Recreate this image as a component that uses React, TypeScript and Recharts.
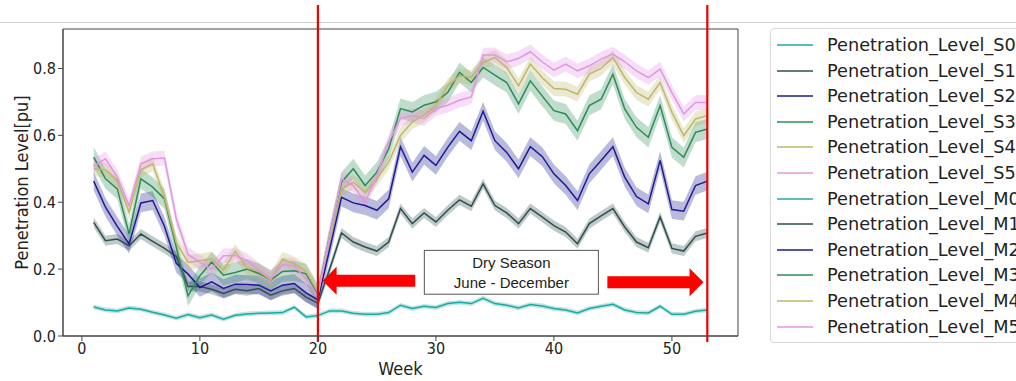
import React from "react";
import {
  ComposedChart,
  Line,
  Area,
  XAxis,
  YAxis,
  ReferenceLine,
  ReferenceArea,
} from "recharts";

// weeks 1..53
const weeks = [
  1, 2, 3, 4, 5, 6, 7, 8, 9, 10, 11, 12, 13, 14, 15, 16, 17, 18, 19, 20, 21, 22, 23, 24, 25, 26, 27,
  28, 29, 30, 31, 32, 33, 34, 35, 36, 37, 38, 39, 40, 41, 42, 43, 44, 45, 46, 47, 48, 49, 50, 51, 52, 53,
];

const levelS0 = [
  0.087, 0.078, 0.075, 0.084, 0.08, 0.071, 0.063, 0.053, 0.064, 0.055, 0.063, 0.05, 0.062, 0.066, 0.068,
  0.069, 0.07, 0.086, 0.057, 0.061, 0.075, 0.075, 0.068, 0.065, 0.065, 0.07, 0.092, 0.082, 0.089, 0.085,
  0.097, 0.101, 0.097, 0.113, 0.097, 0.092, 0.084, 0.094, 0.09, 0.082, 0.078, 0.069, 0.082, 0.089, 0.095,
  0.078, 0.07, 0.069, 0.089, 0.065, 0.065, 0.074, 0.078,
];
const levelS1 = [
  0.34, 0.285, 0.29, 0.27, 0.305, 0.283, 0.262, 0.238, 0.148, 0.148, 0.14, 0.127, 0.14, 0.135, 0.142,
  0.122, 0.135, 0.142, 0.116, 0.098, 0.2, 0.308, 0.281, 0.266, 0.254, 0.281, 0.381, 0.336, 0.368, 0.341,
  0.376, 0.407, 0.388, 0.455, 0.39, 0.368, 0.336, 0.381, 0.356, 0.33, 0.311, 0.276, 0.336, 0.359, 0.381,
  0.326, 0.281, 0.264, 0.356, 0.262, 0.254, 0.298, 0.308,
];
const levelS2 = [
  0.463, 0.385, 0.328, 0.275, 0.398, 0.405, 0.328, 0.217, 0.185, 0.145, 0.162, 0.142, 0.155, 0.154, 0.152,
  0.135, 0.152, 0.157, 0.129, 0.108, 0.26, 0.415, 0.398, 0.39, 0.376, 0.41, 0.566, 0.49, 0.54, 0.51,
  0.564, 0.612, 0.584, 0.672, 0.584, 0.549, 0.5, 0.566, 0.537, 0.485, 0.45, 0.405, 0.485, 0.525, 0.566,
  0.475, 0.417, 0.395, 0.525, 0.378, 0.373, 0.45, 0.463,
];
const levelS3 = [
  0.535, 0.47, 0.44, 0.305, 0.47, 0.445, 0.41, 0.265, 0.12, 0.18, 0.221, 0.182, 0.19, 0.2, 0.187,
  0.167, 0.193, 0.195, 0.186, 0.125, 0.3, 0.46, 0.5, 0.45, 0.49, 0.56, 0.68, 0.67, 0.69, 0.7,
  0.728, 0.788, 0.758, 0.803, 0.78, 0.758, 0.694, 0.763, 0.718, 0.674, 0.664, 0.614, 0.689, 0.708, 0.783,
  0.679, 0.624, 0.594, 0.689, 0.564, 0.534, 0.609, 0.619,
];
const levelS4 = [
  0.5, 0.497, 0.465, 0.37, 0.497, 0.515, 0.415, 0.28, 0.22, 0.225, 0.23, 0.198, 0.253, 0.203, 0.194,
  0.167, 0.23, 0.216, 0.193, 0.13, 0.29, 0.44, 0.46, 0.43, 0.47, 0.52, 0.6, 0.64, 0.66, 0.69,
  0.748, 0.778, 0.773, 0.818, 0.833, 0.803, 0.748, 0.813, 0.773, 0.74, 0.738, 0.723, 0.783, 0.8, 0.833,
  0.773, 0.728, 0.708, 0.758, 0.669, 0.599, 0.649, 0.659,
];
const levelS5 = [
  0.508, 0.53, 0.475, 0.39, 0.515, 0.53, 0.532, 0.35, 0.244, 0.22, 0.2, 0.24, 0.241, 0.225, 0.198,
  0.173, 0.213, 0.21, 0.17, 0.12, 0.3, 0.47, 0.45, 0.4, 0.48, 0.58, 0.65, 0.66, 0.65, 0.68,
  0.69, 0.705, 0.715, 0.84, 0.84, 0.82, 0.83, 0.85, 0.82, 0.795, 0.813, 0.793, 0.808, 0.828, 0.843,
  0.82, 0.793, 0.773, 0.798, 0.728, 0.664, 0.698, 0.698,
];

// confidence band half-width per series, read from the shaded areas
const bandHalfWidth = [0.007, 0.015, 0.028, 0.03, 0.022, 0.022];

const seriesKeys = ["S0", "S1", "S2", "S3", "S4", "S5"];
const seriesValues = [levelS0, levelS1, levelS2, levelS3, levelS4, levelS5];
const seriesColors = ["#20a8a2", "#2f4f4f", "#1c1c8f", "#2e8b57", "#bdb76b", "#e296e2"];

const legendNames = [
  "Penetration_Level_S0",
  "Penetration_Level_S1",
  "Penetration_Level_S2",
  "Penetration_Level_S3",
  "Penetration_Level_S4",
  "Penetration_Level_S5",
  "Penetration_Level_M0",
  "Penetration_Level_M1",
  "Penetration_Level_M2",
  "Penetration_Level_M3",
  "Penetration_Level_M4",
  "Penetration_Level_M5",
];
const legendColors = [...seriesColors, ...seriesColors];

const xTicks = [0, 10, 20, 30, 40, 50];
const yTicks = [0, 0.2, 0.4, 0.6, 0.8];
const seasonStart = 20;
const seasonEnd = 53;

const data = weeks.map((week, i) => {
  const row: Record<string, any> = { week };
  seriesKeys.forEach((key, k) => {
    const v = seriesValues[k][i];
    row[key] = v;
    row[key + "_band"] = [v - bandHalfWidth[k], v + bandHalfWidth[k]];
  });
  return row;
});

const axisFont = "'DejaVu Sans Condensed', 'DejaVu Sans', sans-serif";

function Arrow(props: any) {
  const { x1, y1, x2 } = props;
  const dir = x2 > x1 ? 1 : -1;
  const headLen = 14;
  const headHalf = 14;
  const shaftHalf = 6;
  const baseX = x2 - dir * headLen;
  const pts = [
    [x1, y1 - shaftHalf],
    [baseX, y1 - shaftHalf],
    [baseX, y1 - headHalf],
    [x2, y1],
    [baseX, y1 + headHalf],
    [baseX, y1 + shaftHalf],
    [x1, y1 + shaftHalf],
  ]
    .map((p) => p.join(","))
    .join(" ");
  return <polygon points={pts} fill="#ff0000" stroke="none" />;
}

function SeasonLine(props: any) {
  const top = Math.min(props.y1, props.y2);
  const bottom = Math.max(props.y1, props.y2);
  return (
    <line
      x1={props.x1}
      x2={props.x2}
      y1={top - 24}
      y2={bottom + 6}
      stroke="#ee0000"
      strokeWidth={2.2}
    />
  );
}

function SeasonBox(props: any) {
  const { x, y, width, height } = props;
  const cx = x + width / 2;
  return (
    <g>
      <rect x={x} y={y} width={width} height={height} fill="#ffffff" stroke="#555" strokeWidth={1} />
      <text x={cx} y={y + 18} textAnchor="middle" fontFamily="'Liberation Sans', Arial, sans-serif" fontSize={15} fill="#222">
        Dry Season
      </text>
      <text x={cx} y={y + 38} textAnchor="middle" fontFamily="'Liberation Sans', Arial, sans-serif" fontSize={15} fill="#222">
        June - December
      </text>
    </g>
  );
}

export default function App() {
  return (
    <div
      style={{
        position: "absolute",
        left: 0,
        top: 0,
        width: 1016,
        height: 381,
        overflow: "hidden",
        background: "#fff",
      }}
    >
      <div style={{ position: "absolute", left: 0, top: 22, width: 1016, height: 1, background: "#cfcfcf" }} />
      <ComposedChart
        width={1016}
        height={381}
        data={data}
        margin={{ top: 29, right: 278, bottom: 0, left: 0 }}
        style={{ position: "absolute", left: 0, top: 0 }}
      >
        <XAxis
          dataKey="week"
          type="number"
          domain={[-1.6, 55.6]}
          ticks={xTicks}
          allowDataOverflow
          height={45}
          tickSize={5}
          tick={{ fontSize: 16, fill: "#222", fontFamily: axisFont }}
          stroke="#444"
          label={{ value: "Week", position: "insideBottom", offset: 6, fontSize: 18, fill: "#222", fontFamily: axisFont }}
        />
        <YAxis
          type="number"
          domain={[0, 0.918]}
          ticks={yTicks}
          allowDataOverflow
          width={63}
          tickSize={5}
          tickFormatter={(v: number) => v.toFixed(1)}
          tick={{ fontSize: 16, fill: "#222", fontFamily: axisFont }}
          stroke="#444"
          label={{
            value: "Penetration Level[pu]",
            angle: -90,
            position: "center",
            dx: -10,
            fontSize: 18,
            fill: "#222",
            fontFamily: axisFont,
          }}
        />
        <ReferenceArea x1={-1.6} x2={55.6} y1={0} y2={0.918} fill="none" stroke="#444" strokeWidth={1} />
        {seriesKeys.map((key, k) => (
          <Area
            key={key + "_band"}
            dataKey={key + "_band"}
            type="linear"
            stroke="none"
            fill={seriesColors[k]}
            fillOpacity={0.3}
            dot={false}
            activeDot={false}
            isAnimationActive={false}
          />
        ))}
        {seriesKeys.map((key, k) => (
          <Line
            key={key}
            dataKey={key}
            type="linear"
            stroke={seriesColors[k]}
            strokeWidth={1.5}
            dot={false}
            activeDot={false}
            isAnimationActive={false}
          />
        ))}
        <ReferenceArea x1={29.02} x2={43.77} y1={0.125} y2={0.256} shape={<SeasonBox />} />
        <ReferenceLine
          segment={[
            { x: 28.25, y: 0.165 },
            { x: 20.4, y: 0.165 },
          ]}
          shape={<Arrow />}
        />
        <ReferenceLine
          segment={[
            { x: 44.53, y: 0.161 },
            { x: 52.68, y: 0.161 },
          ]}
          shape={<Arrow />}
        />
        <ReferenceLine x={seasonStart} shape={<SeasonLine />} />
        <ReferenceLine x={seasonEnd} shape={<SeasonLine />} />
      </ComposedChart>
      <div
        style={{
          position: "absolute",
          left: 770,
          top: 28,
          width: 300,
          height: 315,
          border: "1px solid #d8d8d8",
          borderRadius: 4,
          fontFamily: "'DejaVu Sans', sans-serif",
          fontSize: 17.7,
          color: "#222",
          boxSizing: "border-box",
        }}
      >
        {legendNames.map((name, i) => (
          <div
            key={name}
            style={{ position: "absolute", left: 6, top: 5 + i * 25.6, height: 22, display: "flex", alignItems: "center" }}
          >
            <div style={{ width: 36, height: 2, background: legendColors[i], opacity: 0.75 }} />
            <span style={{ marginLeft: 14, whiteSpace: "nowrap" }}>{name}</span>
          </div>
        ))}
      </div>
    </div>
  );
}
